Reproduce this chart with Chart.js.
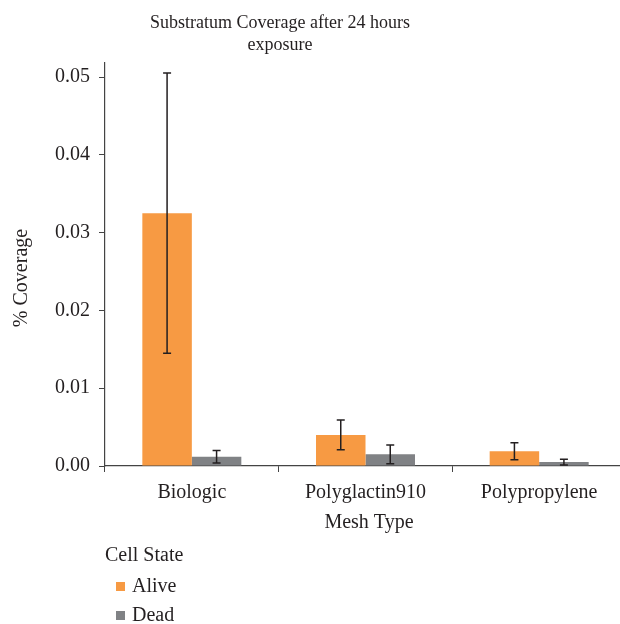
<!DOCTYPE html>
<html>
<head>
<meta charset="utf-8">
<title>Substratum Coverage after 24 hours exposure</title>
<script src="https://cdn.jsdelivr.net/npm/chart.js@4"></script>
<style>
  html, body { margin: 0; padding: 0; background: #ffffff; overflow: hidden; }
  canvas { display: block; }
</style>
</head>
<body>
<canvas id="chart" width="632" height="624"></canvas>
<script>
// Mesh types on the x axis
const categories = ['Biologic', 'Polyglactin910', 'Polypropylene'];

// Mean substratum coverage per mesh type, by cell state
const aliveMeans = [0.0325, 0.0040, 0.0019];
const deadMeans  = [0.0012, 0.0015, 0.0005];

// Error bar half-lengths (± around each mean)
const aliveErrors = [0.0180, 0.0019, 0.0011];
const deadErrors  = [0.0008, 0.0012, 0.00036];

// Value axis range and tick values
const yMin = 0;
const yMax = 0.0518;
const yStep = 0.01;

const seriesLabels = ['Alive', 'Dead'];
const legendTitle = 'Cell State';
const chartTitleLines = ['Substratum Coverage after 24 hours', 'exposure'];
const xAxisTitle = 'Mesh Type';
const yAxisTitle = '% Coverage';

const FONT = '"Liberation Serif", "Times New Roman", serif';
const TEXT = '#231f20';
const ORANGE = '#f79a43';
const GRAY = '#808285';

const errors = [aliveErrors, deadErrors];

// Error bars with caps, placed on each bar through the chart's scales
const errorBars = {
  id: 'errorBars',
  afterDatasetsDraw(chart) {
    const ctx = chart.ctx;
    const y = chart.scales.y;
    ctx.save();
    ctx.strokeStyle = TEXT;
    ctx.lineWidth = 1.5;
    chart.data.datasets.forEach((ds, di) => {
      const meta = chart.getDatasetMeta(di);
      meta.data.forEach((bar, i) => {
        const v = ds.data[i];
        const e = errors[di][i];
        const x = bar.x;
        const top = y.getPixelForValue(v + e);
        const bot = y.getPixelForValue(Math.max(v - e, 0));
        const cap = 4;
        ctx.beginPath();
        ctx.moveTo(x, top); ctx.lineTo(x, bot);
        ctx.moveTo(x - cap, top); ctx.lineTo(x + cap, top);
        ctx.moveTo(x - cap, bot); ctx.lineTo(x + cap, bot);
        ctx.stroke();
      });
    });
    ctx.restore();
  }
};

// Title, axis titles and the vertical legend
const annotations = {
  id: 'annotations',
  afterDraw(chart) {
    const ctx = chart.ctx;
    ctx.save();
    ctx.fillStyle = TEXT;
    ctx.textBaseline = 'alphabetic';

    // chart title
    ctx.font = '18px ' + FONT;
    ctx.textAlign = 'center';
    ctx.fillText(chartTitleLines[0], 280, 28);
    ctx.fillText(chartTitleLines[1], 280, 50);

    // x axis title
    ctx.font = '20px ' + FONT;
    ctx.fillText(xAxisTitle, 369, 528);

    // y axis title
    ctx.save();
    ctx.translate(27, 278);
    ctx.rotate(-Math.PI / 2);
    ctx.textAlign = 'center';
    ctx.fillText(yAxisTitle, 0, 0);
    ctx.restore();

    // legend
    ctx.textAlign = 'left';
    ctx.fillText(legendTitle, 105, 561);
    chart.data.datasets.forEach((ds, i) => {
      const base = 592 + i * 29;
      ctx.fillStyle = ds.backgroundColor;
      ctx.fillRect(116, base - 10, 9, 9);
      ctx.fillStyle = TEXT;
      ctx.fillText(ds.label, 132, base);
    });
    ctx.restore();
  }
};

new Chart(document.getElementById('chart'), {
  type: 'bar',
  data: {
    labels: categories,
    datasets: [
      { label: seriesLabels[0], data: aliveMeans, backgroundColor: ORANGE },
      { label: seriesLabels[1], data: deadMeans, backgroundColor: GRAY }
    ]
  },
  options: {
    responsive: false,
    animation: false,
    devicePixelRatio: 1,
    layout: { padding: { top: 63, left: 0, right: 6, bottom: 88 } },
    datasets: { bar: { categoryPercentage: 0.57, barPercentage: 1.0, borderWidth: 0 } },
    plugins: {
      legend: { display: false },
      title: { display: false },
      tooltip: { enabled: false }
    },
    scales: {
      x: {
        grid: {
          drawOnChartArea: false,
          drawTicks: true,
          tickLength: 6,
          color: '#444444',
          offset: true
        },
        border: { display: true, color: '#444444', width: 1.2 },
        ticks: {
          color: TEXT,
          font: { family: FONT, size: 20 },
          padding: 9,
          maxRotation: 0
        },
        afterFit(scale) { scale.height = 70; }
      },
      y: {
        min: yMin,
        max: yMax,
        grid: {
          drawOnChartArea: false,
          drawTicks: true,
          tickLength: 6,
          color: '#444444'
        },
        border: { display: true, color: '#444444', width: 1.2 },
        ticks: {
          stepSize: yStep,
          includeBounds: false,
          color: TEXT,
          font: { family: FONT, size: 20 },
          padding: 9,
          callback: (v) => v.toFixed(2)
        },
        afterFit(scale) { scale.width = 105; }
      }
    }
  },
  plugins: [errorBars, annotations]
});
</script>
</body>
</html>
